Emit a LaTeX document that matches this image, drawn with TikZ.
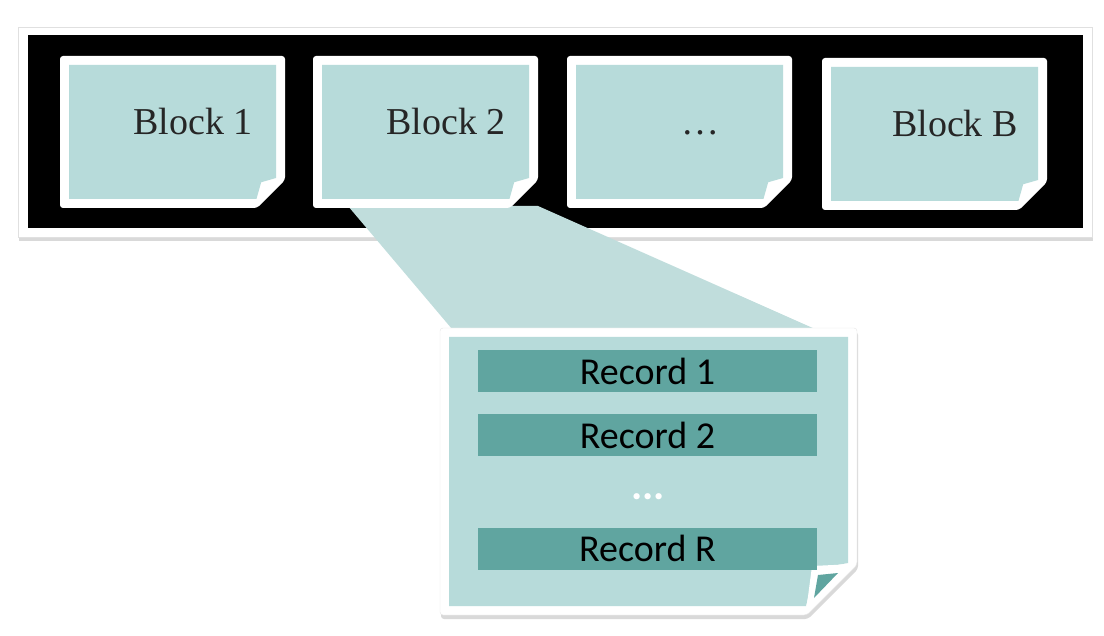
\documentclass[tikz,border=0pt]{standalone}
\usepackage{fontspec}
\setmainfont{Liberation Serif}
\newfontfamily\recfont{Carlito}
\usetikzlibrary{shadows}
\definecolor{cardteal}{HTML}{B7DBDA}
\definecolor{zoomteal}{HTML}{C0DDDC}
\definecolor{recteal}{HTML}{60A5A0}

% sheet with a folded corner: [extra style] x0 y0 x1 y1 cut
\newcommand{\notecard}[6][]{%
  \path[fill=white, rounded corners=3pt, #1] ({#2},{#3}) -- ({#4},{#3}) -- ({#4},{#5-#6}) -- ({#4-#6},{#5}) -- ({#2},{#5}) -- cycle;
  \fill[cardteal] ({#2+9},{#3+9}) -- ({#4-9},{#3+9}) -- ({#4-9},{#5-#6-2}) -- ({#4-0.85*#6},{#5-0.92*#6}) -- ({#4-1.02*#6},{#5-9}) -- ({#2+9},{#5-9}) -- cycle;
}

\begin{document}
\begin{tikzpicture}[x=1pt, y=-1pt,
  blocktext/.style={anchor=base, text=black!85, font=\fontsize{38}{40}\selectfont},
  record/.style={fill=recteal, minimum width=339pt, minimum height=42pt, inner sep=0pt, font=\recfont\fontsize{38}{40}\selectfont}]
  \useasboundingbox (0,0) rectangle (1104,636);
  % the file: a strip of blocks
  \path[fill=white, draw=black!12, drop shadow={opacity=0.3, shadow xshift=1pt, shadow yshift=-4pt}] (18,27) rectangle (1092,237);
  \fill[black] (28,35) rectangle (1083,228);
  % zoom funnel
  \coordinate (f1) at (348,206);
  \coordinate (f2) at (538,206);
  \coordinate (f3) at (815,329);
  \coordinate (f4) at (452,329);
  \fill[zoomteal] (f1) -- (f2) -- (f3) -- (f4) -- cycle;
  \foreach \x/\y/\lab/\txt in {60/56/b1/Block 1, 313/56/b2/Block 2, 567/56/b3/\dots, 822/58/bB/Block B}{
    \notecard{\x}{\y}{\x+225}{\y+152}{28}
    \node[blocktext] (\lab) at ({\x+133},{\y+79}) {\txt};
  }
  % one block, opened
  \notecard[draw=black!10, drop shadow={opacity=0.3, shadow xshift=1pt, shadow yshift=-4pt}]{440}{328}{857}{615}{50}
  \fill[white] (812,566) -- (855,564) -- (806,612) -- cycle;
  \fill[recteal] (818,575) -- (838,573) -- (814,598) -- cycle;
  \node[record] (r1) at (647.5,371) {Record 1};
  \node[record] (r2) at (647.5,435) {Record 2};
  \node[text=white, font=\recfont\bfseries\fontsize{42}{44}\selectfont] (rdots) at (648,497) {...};
  \node[record] (rR) at (647.5,548.5) {Record R};
\end{tikzpicture}
\end{document}
